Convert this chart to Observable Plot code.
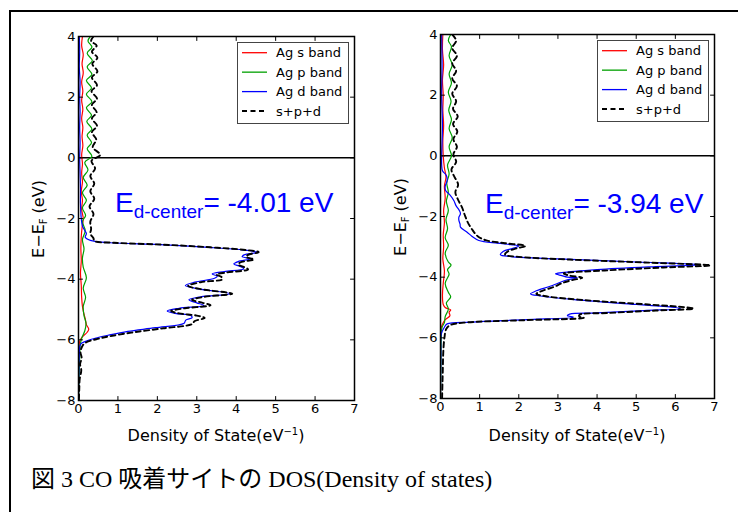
<!DOCTYPE html>
<html><head><meta charset="utf-8">
<script src="https://cdn.jsdelivr.net/npm/d3@7"></script>
<script src="https://cdn.jsdelivr.net/npm/@observablehq/plot@0.6"></script>
<style>
html,body{margin:0;padding:0;background:#fff;}
#fig{position:relative;width:738px;height:512px;overflow:hidden;background:#fff;}
#frame{position:absolute;left:9px;top:10px;width:800px;height:600px;border:2px solid #000;box-sizing:border-box;}
#p1{position:absolute;left:0;top:0;}
#p2{position:absolute;left:362px;top:0;}
#cap{position:absolute;left:31px;top:466px;font-family:"Liberation Serif","Noto Sans CJK JP",serif;font-size:24px;line-height:26px;white-space:nowrap;color:#000;}
</style></head>
<body>
<div id="fig">
  <div id="frame"></div>
  <div id="p1"></div>
  <div id="p2"></div>
  <div id="cap">図 3 CO 吸着サイトの DOS(Density of states)</div>
</div>
<script>
// ---- tick values & labels ----
const xTicks = [0,1,2,3,4,5,6,7];
const xTickLabels = ["0","1","2","3","4","5","6","7"];
const yTicks = [-8,-6,-4,-2,0,2,4];
const yTickLabels = ["−8","−6","−4","−2","0","2","4"];
const seriesNames = ["Ag s band","Ag p band","Ag d band","s+p+d"];
const dCenters = ["-4.01 eV","-3.94 eV"];

// ---- data: [energy (eV), DOS] ----
const leftS = [[4,0.1],[3.7,0.08],[3.4,0.12],[3.1,0.09],[2.8,0.12],[2.5,0.08],[2.2,0.11],[1.9,0.08],[1.6,0.11],[1.3,0.08],[1.0,0.11],[0.7,0.09],[0.4,0.11],[0.1,0.08],[-0.2,0.1],[-0.5,0.08],[-0.8,0.1],[-1.1,0.07],[-1.4,0.1],[-1.7,0.08],[-2.0,0.12],[-2.3,0.09],[-2.6,0.07],[-3.0,0.06],[-3.4,0.07],[-3.8,0.05],[-4.2,0.07],[-4.6,0.08],[-4.9,0.1],[-5.1,0.13],[-5.3,0.17],[-5.5,0.2],[-5.65,0.26],[-5.75,0.22],[-5.9,0.1],[-6.05,0.03],[-6.4,0.01],[-7,0.0],[-8,0.0]];
const leftP = [[4,0.3],[3.85,0.24],[3.65,0.34],[3.45,0.22],[3.2,0.35],[3.0,0.22],[2.75,0.34],[2.55,0.2],[2.3,0.33],[2.1,0.2],[1.85,0.34],[1.65,0.2],[1.4,0.33],[1.2,0.21],[0.95,0.34],[0.75,0.22],[0.5,0.33],[0.3,0.22],[0.05,0.34],[-0.15,0.16],[-0.4,0.24],[-0.65,0.12],[-0.9,0.22],[-1.15,0.1],[-1.4,0.2],[-1.65,0.1],[-1.9,0.18],[-2.1,0.1],[-2.4,0.17],[-2.7,0.1],[-3.0,0.14],[-3.3,0.1],[-3.6,0.12],[-3.95,0.2],[-4.3,0.12],[-4.6,0.18],[-4.9,0.12],[-5.2,0.14],[-5.45,0.19],[-5.7,0.16],[-5.95,0.08],[-6.2,0.04],[-6.6,0.03],[-7,0.02],[-7.5,0.01],[-8,0.0]];
const leftD = [[4,0.02],[3.5,0.03],[3,0.02],[2.5,0.04],[2,0.03],[1.5,0.04],[1,0.03],[0.5,0.04],[0,0.03],[-0.5,0.04],[-1,0.05],[-1.5,0.05],[-2,0.07],[-2.25,0.1],[-2.4,0.16],[-2.5,0.2],[-2.62,0.17],[-2.72,0.3],[-2.8,0.8],[-2.86,2.08],[-2.95,3.3],[-3.04,4.2],[-3.11,4.53],[-3.2,4.2],[-3.26,4.15],[-3.33,4.36],[-3.42,4.05],[-3.5,3.94],[-3.58,4.1],[-3.66,4.19],[-3.75,3.7],[-3.83,3.39],[-3.9,3.52],[-3.97,3.45],[-4.1,2.95],[-4.21,2.71],[-4.32,3.05],[-4.48,3.85],[-4.58,3.1],[-4.68,2.8],[-4.78,3.0],[-4.87,3.18],[-4.96,2.55],[-5.05,2.25],[-5.13,2.45],[-5.2,2.85],[-5.27,2.88],[-5.35,2.72],[-5.45,2.68],[-5.6,1.95],[-5.72,1.25],[-5.85,0.75],[-5.95,0.42],[-6.05,0.18],[-6.15,0.05],[-6.5,0.02],[-7,0.01],[-8,0.0]];
const leftTot = [[4,0.38],[3.85,0.32],[3.7,0.46],[3.5,0.34],[3.3,0.48],[3.1,0.35],[2.85,0.48],[2.65,0.34],[2.4,0.47],[2.2,0.33],[1.95,0.47],[1.75,0.34],[1.5,0.46],[1.3,0.34],[1.05,0.47],[0.85,0.34],[0.6,0.45],[0.35,0.36],[0.1,0.55],[-0.1,0.33],[-0.35,0.42],[-0.6,0.3],[-0.85,0.4],[-1.1,0.3],[-1.35,0.4],[-1.6,0.28],[-1.85,0.38],[-2.1,0.3],[-2.35,0.32],[-2.5,0.3],[-2.65,0.38],[-2.74,0.4],[-2.8,0.9],[-2.86,2.1],[-2.95,3.35],[-3.04,4.25],[-3.11,4.57],[-3.2,4.3],[-3.27,4.25],[-3.35,4.45],[-3.45,4.1],[-3.52,4.05],[-3.6,4.2],[-3.68,4.3],[-3.78,3.75],[-3.85,3.5],[-3.92,3.62],[-4.0,3.65],[-4.1,3.1],[-4.22,2.78],[-4.33,3.1],[-4.48,3.9],[-4.58,3.2],[-4.68,2.88],[-4.78,3.15],[-4.86,3.35],[-4.96,2.7],[-5.05,2.35],[-5.13,2.55],[-5.2,3.0],[-5.28,3.2],[-5.38,2.95],[-5.48,2.88],[-5.62,2.15],[-5.75,1.4],[-5.88,0.8],[-5.98,0.45],[-6.08,0.2],[-6.2,0.1],[-6.4,0.05],[-6.6,0.08],[-6.8,0.04],[-7.0,0.07],[-7.3,0.03],[-7.6,0.02],[-8,0.01]];

const rightS = [[4,0.06],[3.5,0.05],[3,0.08],[2.5,0.05],[2,0.07],[1.5,0.06],[1,0.08],[0.5,0.06],[0,0.07],[-0.4,0.1],[-0.7,0.14],[-1.0,0.1],[-1.4,0.12],[-1.8,0.08],[-2.2,0.1],[-2.6,0.07],[-3.0,0.08],[-3.4,0.06],[-3.8,0.1],[-4.2,0.07],[-4.6,0.05],[-4.9,0.07],[-5.0,0.12],[-5.08,0.26],[-5.15,0.22],[-5.27,0.24],[-5.4,0.12],[-5.55,0.05],[-5.7,0.01],[-6,0.0],[-8,0.0]];
const rightP = [[4,0.26],[3.8,0.2],[3.6,0.28],[3.3,0.22],[3.0,0.3],[2.7,0.22],[2.4,0.28],[2.1,0.2],[1.8,0.27],[1.5,0.21],[1.2,0.28],[0.9,0.22],[0.6,0.3],[0.3,0.22],[0.0,0.28],[-0.3,0.18],[-0.6,0.22],[-0.9,0.16],[-1.2,0.2],[-1.5,0.15],[-1.8,0.2],[-2.1,0.14],[-2.4,0.18],[-2.7,0.12],[-2.95,0.2],[-3.2,0.12],[-3.5,0.2],[-3.6,0.27],[-3.75,0.18],[-3.9,0.22],[-4.2,0.12],[-4.5,0.2],[-4.65,0.26],[-4.85,0.15],[-5.05,0.2],[-5.3,0.12],[-5.5,0.1],[-5.65,0.04],[-6,0.02],[-7,0.01],[-8,0.0]];
const rightD = [[4,0.03],[3,0.04],[2,0.03],[1,0.05],[0,0.03],[-0.3,0.03],[-0.49,0.05],[-0.65,0.15],[-0.81,0.17],[-1.0,0.12],[-1.14,0.13],[-1.3,0.25],[-1.47,0.34],[-1.65,0.4],[-1.8,0.48],[-1.91,0.51],[-2.02,0.47],[-2.13,0.47],[-2.25,0.5],[-2.35,0.51],[-2.52,0.68],[-2.65,0.8],[-2.79,0.98],[-2.88,1.45],[-2.93,1.8],[-2.97,2.0],[-3.05,1.85],[-3.15,1.6],[-3.26,1.53],[-3.32,1.8],[-3.4,3.0],[-3.5,5.0],[-3.59,6.64],[-3.65,5.5],[-3.75,4.0],[-3.85,3.1],[-3.89,2.94],[-3.95,3.1],[-4.0,3.24],[-4.02,3.49],[-4.1,3.2],[-4.2,3.0],[-4.3,2.8],[-4.45,2.45],[-4.55,2.3],[-4.62,2.55],[-4.75,3.5],[-4.9,5.0],[-5.0,6.0],[-5.04,6.13],[-5.1,5.2],[-5.18,4.0],[-5.22,3.3],[-5.27,3.24],[-5.32,3.4],[-5.4,2.2],[-5.48,0.8],[-5.54,0.17],[-5.65,0.1],[-5.87,0.02],[-6.5,0.01],[-8,0.0]];
const rightTot = [[4,0.3],[3.8,0.4],[3.55,0.3],[3.3,0.42],[3.05,0.3],[2.8,0.4],[2.55,0.3],[2.3,0.42],[2.05,0.3],[1.8,0.4],[1.55,0.32],[1.3,0.44],[1.05,0.32],[0.8,0.43],[0.55,0.33],[0.3,0.42],[0.05,0.33],[-0.2,0.4],[-0.45,0.28],[-0.7,0.36],[-0.95,0.45],[-1.2,0.38],[-1.45,0.45],[-1.7,0.55],[-1.95,0.62],[-2.2,0.7],[-2.45,0.82],[-2.65,0.95],[-2.78,1.15],[-2.88,1.65],[-2.97,2.17],[-3.05,1.95],[-3.15,1.72],[-3.26,1.65],[-3.33,2.0],[-3.42,3.3],[-3.52,5.3],[-3.61,6.9],[-3.68,5.7],[-3.78,4.2],[-3.88,3.15],[-3.95,3.3],[-4.02,3.62],[-4.1,3.35],[-4.2,3.1],[-4.32,2.9],[-4.45,2.6],[-4.55,2.45],[-4.63,2.7],[-4.76,3.7],[-4.9,5.3],[-5.0,6.3],[-5.04,6.47],[-5.1,5.5],[-5.18,4.3],[-5.24,3.55],[-5.3,3.55],[-5.34,3.66],[-5.42,2.1],[-5.5,0.6],[-5.58,0.25],[-5.7,0.15],[-6,0.1],[-6.5,0.07],[-7,0.06],[-7.5,0.05],[-8,0.04]];

const colors = ["#ff0000","#00a000","#0000ff","#000000"];

const tickShape = {draw(ctx, l) { ctx.moveTo(0, 0); ctx.lineTo(0, -l); }};

function panel(series, dCenter, opts) {
  const {width, marginLeft, marginRight, marginTop, marginBottom, height} = opts;
  const [xmin, xmax] = [xTicks[0], xTicks[xTicks.length-1]];
  const [ymin, ymax] = [yTicks[0], yTicks[yTicks.length-1]];
  const tk = {length: 4, anchor: "start", shape: tickShape, stroke: "#000", strokeWidth: 1};
  const lines = series.map((data, i) => Plot.line(data, {
    x: d => d[1], y: d => d[0], stroke: colors[i],
    strokeWidth: i === 3 ? 1.9 : 1.2,
    strokeDasharray: i === 3 ? "5,3.5" : null,
    curve: "catmull-rom", clip: true
  }));
  const svg = Plot.plot({
    width, height, marginLeft, marginRight, marginTop, marginBottom,
    x: {domain: [xmin, xmax]},
    y: {domain: [ymin, ymax]},
    style: {fontFamily: "'DejaVu Sans', sans-serif", fontSize: "13px", color: "#000", background: "transparent", overflow: "visible"},
    marks: [
      Plot.ruleY([0], {stroke: "#000", strokeWidth: 1.5}),
      lines[0], lines[1], lines[2], lines[3],
      Plot.frame({stroke: "#000", strokeWidth: 1.5}),
      Plot.vector(xTicks, {...tk, x: d => d, y: ymin, rotate: 0}),
      Plot.vector(xTicks, {...tk, x: d => d, y: ymax, rotate: 180}),
      Plot.vector(yTicks, {...tk, x: xmin, y: d => d, rotate: 90}),
      Plot.vector(yTicks, {...tk, x: xmax, y: d => d, rotate: -90}),
      Plot.axisX(xTicks, {tickSize: 0, tickPadding: 3, tickFormat: d => xTickLabels[xTicks.indexOf(d)], label: null}),
      Plot.axisY(yTicks, {tickSize: 0, tickPadding: 3, tickFormat: d => yTickLabels[yTicks.indexOf(d)], label: null})
    ]
  });
  const g = d3.select(svg);
  const px0 = marginLeft, px1 = width - marginRight, py0 = marginTop, py1 = height - marginBottom;
  // y label
  const yl = g.append("text")
    .attr("transform", `translate(44,${(py0 + py1) / 2 + 1}) rotate(-90)`)
    .attr("text-anchor", "middle")
    .attr("font-family", "'DejaVu Sans', sans-serif").attr("font-size", 16).attr("fill", "#000");
  yl.append("tspan").text("E−E");
  yl.append("tspan").attr("font-size", 10).attr("dy", 3).text("F");
  yl.append("tspan").attr("dy", -3).text(" (eV)");
  // x label
  const xl = g.append("text")
    .attr("x", (px0 + px1) / 2).attr("y", 441)
    .attr("text-anchor", "middle")
    .attr("font-family", "'DejaVu Sans', sans-serif").attr("font-size", 16).attr("fill", "#000");
  xl.append("tspan").text("Density of State(eV");
  xl.append("tspan").attr("font-size", 10).attr("dy", -6).text("−1");
  xl.append("tspan").attr("dy", 6).text(")");
  // d-center annotation
  const ed = g.append("text")
    .attr("x", opts.edX).attr("y", opts.edY)
    .attr("text-anchor", "start")
    .attr("font-family", "'Liberation Sans', Arial, sans-serif").attr("fill", "#0000ff").attr("font-size", 28);
  ed.append("tspan").text("E");
  ed.append("tspan").attr("font-size", 19).attr("dy", 6).text("d-center");
  ed.append("tspan").attr("dy", -6).text("= " + dCenter);
  // legend
  const lw = 111, lh = 81;
  const lx = px1 - 6 - lw, ly = py0 + 6;
  const lg = g.append("g").attr("text-anchor", "start");
  lg.append("rect").attr("x", lx + 0.5).attr("y", ly + 0.5).attr("width", lw).attr("height", lh)
    .attr("fill", "#fff").attr("stroke", "#444").attr("stroke-width", 1);
  seriesNames.forEach((name, i) => {
    const cy = ly + 10.7 + i * 19.45;
    lg.append("line").attr("x1", lx + 5).attr("x2", lx + 30).attr("y1", cy).attr("y2", cy)
      .attr("stroke", colors[i]).attr("stroke-width", i === 3 ? 1.9 : 1.3)
      .attr("stroke-dasharray", i === 3 ? "5,3.5" : null);
    lg.append("text").attr("x", lx + 39).attr("y", cy).attr("dy", "0.36em")
      .attr("text-anchor", "start")
      .attr("font-family", "'DejaVu Sans', sans-serif").attr("font-size", 13).attr("fill", "#000")
      .text(name);
  });
  return svg;
}

document.getElementById("p1").appendChild(panel([leftS, leftP, leftD, leftTot], dCenters[0],
  {width: 370, height: 450, marginLeft: 78, marginRight: 16, marginTop: 36, marginBottom: 50, edX: 115, edY: 212}));
document.getElementById("p2").appendChild(panel([rightS, rightP, rightD, rightTot], dCenters[1],
  {width: 376, height: 450, marginLeft: 78, marginRight: 24, marginTop: 34, marginBottom: 52, edX: 123, edY: 213}));
</script>
</body></html>
